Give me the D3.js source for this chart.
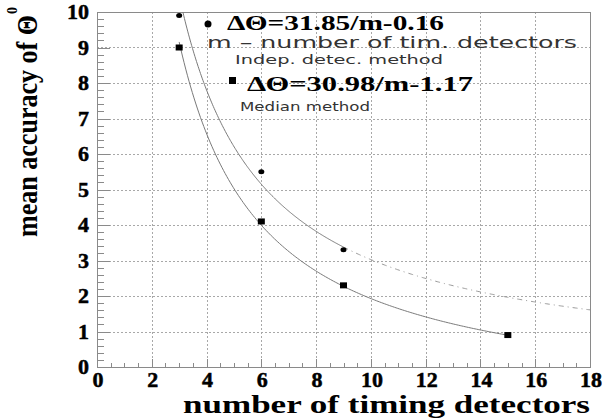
<!DOCTYPE html>
<html>
<head>
<meta charset="utf-8">
<script src="https://cdn.jsdelivr.net/npm/d3@7"></script>
<style>
  html, body { margin: 0; padding: 0; background: #fff; }
  svg { display: block; }
</style>
</head>
<body>
<svg id="chart" width="605" height="419"></svg>
<script>
// Measured accuracy vs. number of timing detectors
const detectorsIndep = [3, 6, 9];
const accuracyIndep = [9.9, 5.5, 3.3];
const detectorsMedian = [3, 6, 9, 15];
const accuracyMedian = [9.0, 4.1, 2.3, 0.9];

// Fit parameters: dTheta = a/m + b
const fitIndep = [31.85, -0.16];
const fitMedian = [30.98, -1.17];

const xTicks = [0, 2, 4, 6, 8, 10, 12, 14, 16, 18];
const yTicks = [0, 1, 2, 3, 4, 5, 6, 7, 8, 9, 10];

const svg = d3.select("#chart");
const W = 605, H = 419;
const plot = { left: 97, right: 590, top: 12, bottom: 367 };

const x = d3.scaleLinear().domain([0, 18]).range([plot.left, plot.right]);
const y = d3.scaleLinear().domain([0, 10]).range([plot.bottom, plot.top]);

svg.append("rect").attr("width", W).attr("height", H).attr("fill", "#fff");

const frameColor = "#8a8a8a";
const serif = "'Liberation Serif', Tinos, 'Times New Roman', 'DejaVu Serif', serif";
const sans = "'DejaVu Sans', 'Liberation Sans', sans-serif";

// Grid lines at major ticks
const grid = svg.append("g").attr("stroke", "#a8a8a8").attr("stroke-width", 1)
  .attr("stroke-dasharray", "2,2").attr("shape-rendering", "crispEdges");
xTicks.slice(1, -1).forEach(t => {
  grid.append("line").attr("x1", Math.round(x(t)) + 0.5).attr("x2", Math.round(x(t)) + 0.5)
    .attr("y1", plot.top).attr("y2", plot.bottom);
});
yTicks.slice(1, -1).forEach(t => {
  grid.append("line").attr("y1", Math.round(y(t)) + 0.5).attr("y2", Math.round(y(t)) + 0.5)
    .attr("x1", plot.left).attr("x2", plot.right);
});

// Frame
svg.append("rect")
  .attr("x", plot.left + 0.5).attr("y", plot.top + 0.5)
  .attr("width", plot.right - plot.left).attr("height", plot.bottom - plot.top)
  .attr("fill", "none").attr("stroke", frameColor).attr("stroke-width", 1)
  .attr("shape-rendering", "crispEdges");

// Axes with inward ticks
const xAxis = d3.axisTop(x).tickValues(d3.range(0, 18.01, 0.5))
  .tickSize(0).tickFormat("");
const xAxisG = svg.append("g").attr("transform", `translate(0,${plot.bottom + 0.5})`).call(xAxis);
xAxisG.select(".domain").remove();
xAxisG.selectAll(".tick line").remove();
xAxisG.selectAll(".tick").append("line")
  .attr("y1", 0).attr("y2", d => (Math.abs(d % 2) < 1e-6 ? -9 : -5))
  .attr("stroke", frameColor).attr("shape-rendering", "crispEdges");

const yAxis = d3.axisRight(y).tickValues(d3.range(0, 10.001, 0.2))
  .tickSize(0).tickFormat("");
const yAxisG = svg.append("g").attr("transform", `translate(${plot.left + 0.5},0)`).call(yAxis);
yAxisG.select(".domain").remove();
yAxisG.selectAll(".tick line").remove();
yAxisG.selectAll(".tick").append("line")
  .attr("x1", 0).attr("x2", d => (Math.abs(d - Math.round(d)) < 1e-6 ? 12 : 6))
  .attr("stroke", frameColor).attr("shape-rendering", "crispEdges");

// Tick labels
svg.append("g").selectAll("text").data(xTicks).join("text")
  .attr("x", d => x(d) + 1).attr("y", 387)
  .attr("text-anchor", "middle")
  .attr("font-family", serif).attr("font-weight", "bold").attr("font-size", 22)
  .attr("fill", "#000").attr("stroke", "#000").attr("stroke-width", 0.5)
  .text(d => d);

svg.append("g").selectAll("text").data(yTicks).join("text")
  .attr("x", 89).attr("y", d => y(d) + 7)
  .attr("text-anchor", "end")
  .attr("font-family", serif).attr("font-weight", "bold").attr("font-size", 22)
  .attr("fill", "#000").attr("stroke", "#000").attr("stroke-width", 0.5)
  .text(d => d);

// Axis titles
svg.append("text")
  .attr("x", 183).attr("y", 413)
  .attr("font-family", serif).attr("font-weight", "bold").attr("font-size", 26)
  .attr("textLength", 407).attr("lengthAdjust", "spacingAndGlyphs")
  .attr("fill", "#000").text("number of timing detectors");

svg.append("text")
  .attr("transform", "translate(37,237) rotate(-90) scale(1,1.12)")
  .attr("font-family", serif).attr("font-weight", "bold").attr("font-size", 26)
  .attr("textLength", 222).attr("lengthAdjust", "spacingAndGlyphs")
  .attr("fill", "#000").text("mean accuracy of Θ");
svg.append("text")
  .attr("transform", "translate(17,14) rotate(-90)")
  .attr("font-family", serif).attr("font-weight", "bold").attr("font-size", 14)
  .attr("fill", "#000").text("0");

// Fit curves
const clip = svg.append("clipPath").attr("id", "plotClip");
clip.append("rect").attr("x", plot.left).attr("y", plot.top)
  .attr("width", plot.right - plot.left).attr("height", plot.bottom - plot.top);

const fitLine = d3.line().x(d => x(d[0])).y(d => y(d[1])).curve(d3.curveLinear);
const fitPoints = (p, m0, m1) => {
  const pts = [];
  const n = 200;
  for (let i = 0; i <= n; i++) {
    const m = m0 + (m1 - m0) * i / n;
    pts.push([m, p[0] / m + p[1]]);
  }
  return pts;
};

const curves = svg.append("g").attr("clip-path", "url(#plotClip)").attr("fill", "none");
const mTop = fitIndep[0] / (10 - fitIndep[1]);
curves.append("path").attr("d", fitLine(fitPoints(fitIndep, mTop, 9)))
  .attr("stroke", "#7a7a7a").attr("stroke-width", 1);
curves.append("path").attr("d", fitLine(fitPoints(fitIndep, 9, 18)))
  .attr("stroke", "#9a9a9a").attr("stroke-width", 1)
  .attr("stroke-dasharray", "5,4,1,4");
curves.append("path").attr("d", fitLine(fitPoints(fitMedian, 3, 15)))
  .attr("stroke", "#7a7a7a").attr("stroke-width", 1);

// Data markers
svg.append("g").selectAll("ellipse")
  .data(detectorsIndep.map((m, i) => [m, accuracyIndep[i]]))
  .join("ellipse")
  .attr("cx", d => x(d[0])).attr("cy", d => y(d[1]))
  .attr("rx", 3).attr("ry", 2.5).attr("fill", "#000");

svg.append("g").selectAll("rect")
  .data(detectorsMedian.map((m, i) => [m, accuracyMedian[i]]))
  .join("rect")
  .attr("x", d => x(d[0]) - 3.5).attr("y", d => y(d[1]) - 3)
  .attr("width", 7).attr("height", 6).attr("fill", "#000");

// Legend / annotations
svg.append("circle").attr("cx", 208).attr("cy", 24).attr("r", 3.5).attr("fill", "#000");
svg.append("text").attr("x", 227).attr("y", 30)
  .attr("font-family", serif).attr("font-weight", "bold").attr("font-size", 22)
  .attr("textLength", 217).attr("lengthAdjust", "spacingAndGlyphs")
  .attr("fill", "#000").text("ΔΘ=31.85/m-0.16");

svg.append("text").attr("x", 207).attr("y", 48)
  .attr("font-family", sans).attr("font-size", 16)
  .attr("textLength", 370).attr("lengthAdjust", "spacingAndGlyphs")
  .attr("fill", "#333").text("m – number of tim. detectors");

svg.append("text").attr("x", 235).attr("y", 64)
  .attr("font-family", sans).attr("font-size", 12.5)
  .attr("textLength", 208).attr("lengthAdjust", "spacingAndGlyphs")
  .attr("fill", "#333").text("Indep. detec. method");

svg.append("rect").attr("x", 229).attr("y", 77).attr("width", 7).attr("height", 7).attr("fill", "#000");
svg.append("text").attr("x", 247).attr("y", 91)
  .attr("font-family", serif).attr("font-weight", "bold").attr("font-size", 22)
  .attr("textLength", 226).attr("lengthAdjust", "spacingAndGlyphs")
  .attr("fill", "#000").text("ΔΘ=30.98/m-1.17");

svg.append("text").attr("x", 240).attr("y", 111)
  .attr("font-family", sans).attr("font-size", 12.5)
  .attr("textLength", 130).attr("lengthAdjust", "spacingAndGlyphs")
  .attr("fill", "#333").text("Median method");
</script>
</body>
</html>
